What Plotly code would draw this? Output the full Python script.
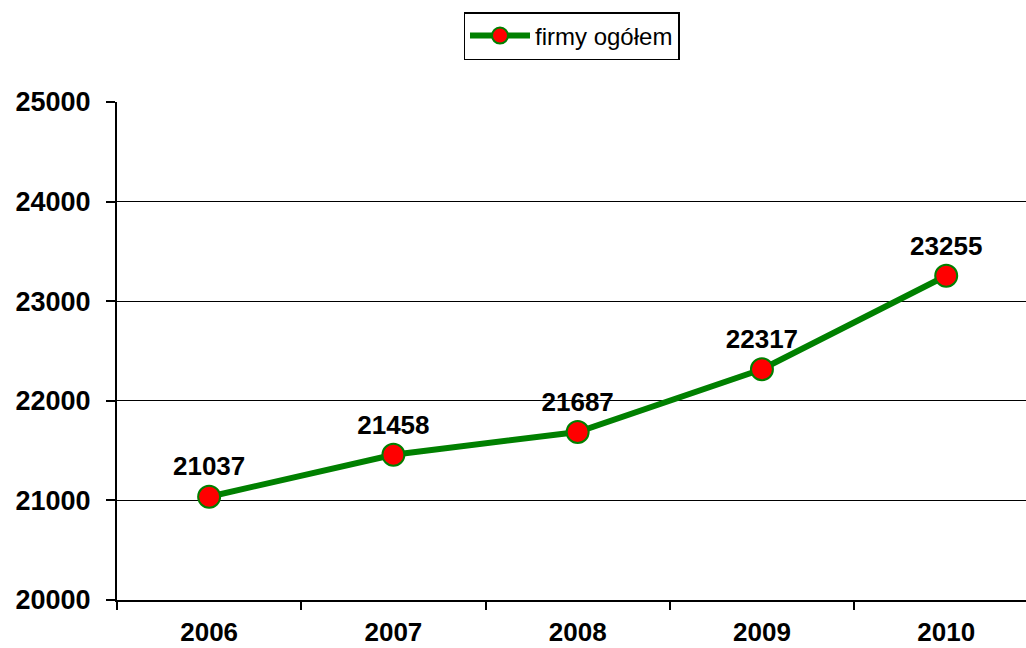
import plotly.graph_objects as go

years = ["2006", "2007", "2008", "2009", "2010"]
values = [21037, 21458, 21687, 22317, 23255]
y_ticks = [20000, 21000, 22000, 23000, 24000, 25000]
series_name = "firmy ogółem"

FONT = "Liberation Sans, Arial, sans-serif"

fig = go.Figure()
fig.add_trace(go.Scatter(
    x=years, y=values, name=series_name,
    mode="lines+markers+text",
    line=dict(color="#008000", width=6),
    marker=dict(color="#ff0000", size=22, line=dict(color="#008000", width=2)),
    text=[str(v) for v in values],
    textposition="top center",
    textfont=dict(family=FONT, size=26, color="black", weight="bold"),
    cliponaxis=False,
))

fig.update_layout(
    width=1026, height=648,
    margin=dict(l=117, r=0, t=102, b=48, autoexpand=False),
    paper_bgcolor="white", plot_bgcolor="white",
    font=dict(family=FONT, color="black"),
    showlegend=True,
    legend=dict(
        x=0.5, xanchor="center",
        y=1 - 12 / 648, yanchor="top", yref="container",
        orientation="h",
        bordercolor="black", borderwidth=1.5,
        font=dict(size=24, color="black"),
        itemwidth=60,
    ),
    xaxis=dict(
        type="category",
        range=[-0.5, 4.433],
        showline=True, linecolor="black", linewidth=2,
        ticks="outside", tickson="boundaries", ticklen=8, tickcolor="black", tickwidth=1.5,
        showgrid=False,
        ticklabelstandoff=8,
        tickfont=dict(family=FONT, size=26, color="black", weight="bold"),
    ),
    yaxis=dict(
        range=[20000, 25000],
        tickvals=y_ticks,
        ticktext=[str(t) for t in y_ticks],
        showline=True, linecolor="black", linewidth=2,
        ticks="outside", ticklen=9, tickcolor="black", tickwidth=1.5,
        showgrid=True, gridcolor="black", gridwidth=1,
        ticklabelstandoff=10,
        tickfont=dict(family=FONT, size=27, color="black", weight="bold"),
        zeroline=False,
    ),
)

fig.write_html(
    "out.html",
    config={"displayModeBar": False},
    post_script="document.body.style.margin='0';document.body.style.overflow='hidden';",
)
